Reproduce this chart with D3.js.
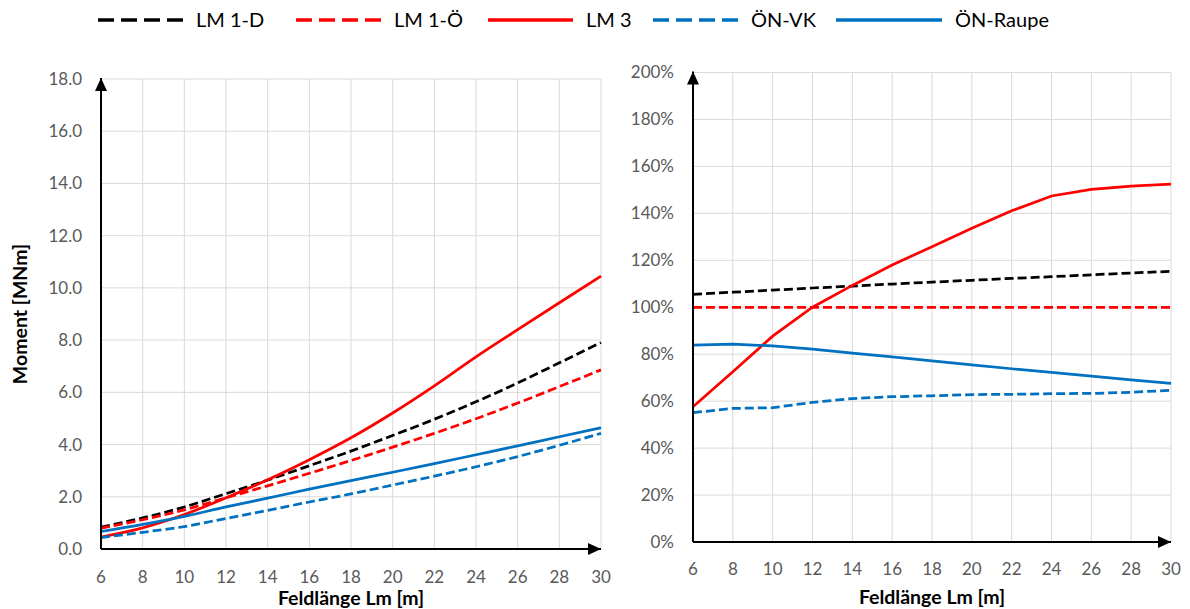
<!DOCTYPE html>
<html>
<head>
<meta charset="utf-8">
<script src="https://cdn.jsdelivr.net/npm/d3@7"></script>
<style>
  body { margin: 0; background: #fff; }
  svg { display: block; font-family: Lato, "Open Sans", sans-serif; }
</style>
</head>
<body>
<svg id="chart" width="1190" height="609"></svg>
<script>
// Feldlänge Lm [m]
const lengths = [6, 8, 10, 12, 14, 16, 18, 20, 22, 24, 26, 28, 30];

const seriesNames = ["LM 1-D", "LM 1-Ö", "LM 3", "ÖN-VK", "ÖN-Raupe"];
const seriesColors = ["#000000", "#FF0000", "#FF0000", "#0070C0", "#0070C0"];
const seriesDashed = [true, true, false, true, false];

// left chart: Moment [MNm]
const momentLM1D   = [0.84, 1.19, 1.61, 2.12, 2.64, 3.19, 3.75, 4.35, 4.97, 5.64, 6.36, 7.13, 7.91];
const momentLM1O   = [0.80, 1.12, 1.50, 1.96, 2.42, 2.90, 3.39, 3.90, 4.43, 4.99, 5.59, 6.22, 6.86];
const momentLM3    = [0.46, 0.81, 1.32, 1.96, 2.65, 3.42, 4.26, 5.21, 6.25, 7.36, 8.40, 9.43, 10.45];
const momentONVK   = [0.44, 0.64, 0.86, 1.17, 1.48, 1.80, 2.11, 2.45, 2.79, 3.15, 3.54, 3.97, 4.43];
const momentONRaupe = [0.67, 0.94, 1.25, 1.61, 1.95, 2.29, 2.62, 2.94, 3.27, 3.61, 3.95, 4.30, 4.64];

// right chart: ratio to LM 1-Ö [%]
const ratioLM1D    = [105.5, 106.4, 107.3, 108.2, 109.0, 109.9, 110.7, 111.5, 112.3, 113.0, 113.8, 114.6, 115.3];
const ratioLM1O    = [100, 100, 100, 100, 100, 100, 100, 100, 100, 100, 100, 100, 100];
const ratioLM3     = [57.6, 72.5, 87.7, 100.0, 109.3, 118.0, 125.8, 133.6, 141.1, 147.4, 150.2, 151.6, 152.4];
const ratioONVK    = [55.1, 56.9, 57.2, 59.5, 61.1, 61.9, 62.3, 62.8, 62.9, 63.2, 63.3, 63.8, 64.6];
const ratioONRaupe = [83.9, 84.3, 83.5, 82.2, 80.5, 78.9, 77.2, 75.5, 73.8, 72.3, 70.7, 69.1, 67.6];

const momentTicks = [0, 2, 4, 6, 8, 10, 12, 14, 16, 18];
const ratioTicks = [0, 20, 40, 60, 80, 100, 120, 140, 160, 180, 200];

const xTitle = "Feldlänge Lm [m]";
const yTitleLeft = "Moment [MNm]";

const svg = d3.select("#chart");
svg.append("rect").attr("width", 1190).attr("height", 609).attr("fill", "#fff");

// arrow marker for the axes
svg.append("defs").append("marker")
    .attr("id", "arrow")
    .attr("markerUnits", "userSpaceOnUse")
    .attr("markerWidth", 14)
    .attr("markerHeight", 14)
    .attr("viewBox", "0 0 14 14")
    .attr("refX", 13)
    .attr("refY", 7)
    .attr("orient", "auto")
    .append("path")
    .attr("d", "M0,1 L13,7 L0,13 Z")
    .attr("fill", "#000");

function drawPanel(opts) {
    const x = d3.scaleLinear().domain([6, 30]).range([opts.left, opts.right]);
    const y = d3.scaleLinear().domain([0, opts.yMax]).range([opts.bottom, opts.top]);
    const g = svg.append("g");

    // grid
    g.append("g").selectAll("line.v")
        .data(lengths)
        .join("line")
        .attr("x1", d => x(d)).attr("x2", d => x(d))
        .attr("y1", y(0)).attr("y2", y(opts.yMax))
        .attr("stroke", "#d9d9d9").attr("stroke-width", 1);
    g.append("g").selectAll("line.h")
        .data(opts.yTicks)
        .join("line")
        .attr("x1", x(6)).attr("x2", x(30))
        .attr("y1", d => y(d)).attr("y2", d => y(d))
        .attr("stroke", "#d9d9d9").attr("stroke-width", 1);

    // tick labels
    g.append("g").selectAll("text")
        .data(opts.yTicks)
        .join("text")
        .attr("x", x(6) - 19)
        .attr("y", d => y(d))
        .attr("dy", "0.35em")
        .attr("text-anchor", "end")
        .attr("fill", "#595959")
        .style("font-size", "17px")
        .text(opts.yFormat);
    g.append("g").selectAll("text")
        .data(lengths)
        .join("text")
        .attr("x", d => x(d))
        .attr("y", opts.xLabelY)
        .attr("dy", "0.35em")
        .attr("text-anchor", "middle")
        .attr("fill", "#595959")
        .style("font-size", "17px")
        .text(d => d);

    // series
    const line = d3.line()
        .x((d, i) => x(lengths[i]))
        .y(d => y(d))
        .curve(opts.curve);
    opts.series.forEach((vals, i) => {
        g.append("path")
            .datum(vals)
            .attr("fill", "none")
            .attr("stroke", seriesColors[i])
            .attr("stroke-width", 2.75)
            .attr("stroke-dasharray", seriesDashed[i] ? "9,4" : null)
            .attr("d", line);
    });

    // axes with arrows
    g.append("line")
        .attr("x1", x(6)).attr("y1", y(0))
        .attr("x2", x(30)).attr("y2", y(0))
        .attr("stroke", "#000").attr("stroke-width", 2)
        .attr("marker-end", "url(#arrow)");
    g.append("line")
        .attr("x1", x(6)).attr("y1", y(0))
        .attr("x2", x(6)).attr("y2", y(opts.yMax) - 1)
        .attr("stroke", "#000").attr("stroke-width", 2)
        .attr("marker-end", "url(#arrow)");

    // x title
    g.append("text")
        .attr("x", (opts.left + opts.right) / 2)
        .attr("y", opts.xTitleY)
        .attr("dy", "0.35em")
        .attr("text-anchor", "middle")
        .style("font-size", "19.5px")
        .style("font-weight", "bold")
        .text(xTitle);

    if (opts.yTitle) {
        g.append("text")
            .attr("transform", `translate(20, ${(opts.top + opts.bottom) / 2}) rotate(-90)`)
            .attr("dy", "0.35em")
            .attr("text-anchor", "middle")
            .style("font-size", "19.5px")
            .style("font-weight", "bold")
            .text(opts.yTitle);
    }
}

drawPanel({
    left: 101, right: 601, top: 79, bottom: 549,
    yMax: 18, yTicks: momentTicks, yFormat: d3.format(".1f"),
    xLabelY: 577, xTitleY: 598, yTitle: yTitleLeft,
    curve: d3.curveMonotoneX,
    series: [momentLM1D, momentLM1O, momentLM3, momentONVK, momentONRaupe]
});

drawPanel({
    left: 693, right: 1171, top: 72.5, bottom: 542,
    yMax: 200, yTicks: ratioTicks, yFormat: d => d + "%",
    xLabelY: 569, xTitleY: 597, yTitle: null,
    curve: d3.curveLinear,
    series: [ratioLM1D, ratioLM1O, ratioLM3, ratioONVK, ratioONRaupe]
});

// legend (layout positions only)
const legendPos = [
    { x: 98, len: 85 },
    { x: 296, len: 85 },
    { x: 488, len: 85 },
    { x: 653, len: 85 },
    { x: 836, len: 106 }
];
const legend = svg.append("g").attr("transform", "translate(0, 20)");
seriesNames.forEach((name, i) => {
    const p = legendPos[i];
    legend.append("line")
        .attr("x1", p.x).attr("x2", p.x + p.len)
        .attr("y1", 0).attr("y2", 0)
        .attr("stroke", seriesColors[i])
        .attr("stroke-width", 3.5)
        .attr("stroke-dasharray", seriesDashed[i] ? "16,7" : null);
    legend.append("text")
        .attr("x", p.x + p.len + 13)
        .attr("y", 0)
        .attr("dy", "0.35em")
        .style("font-size", "20px")
        .attr("fill", "#000")
        .text(name);
});
</script>
</body>
</html>
